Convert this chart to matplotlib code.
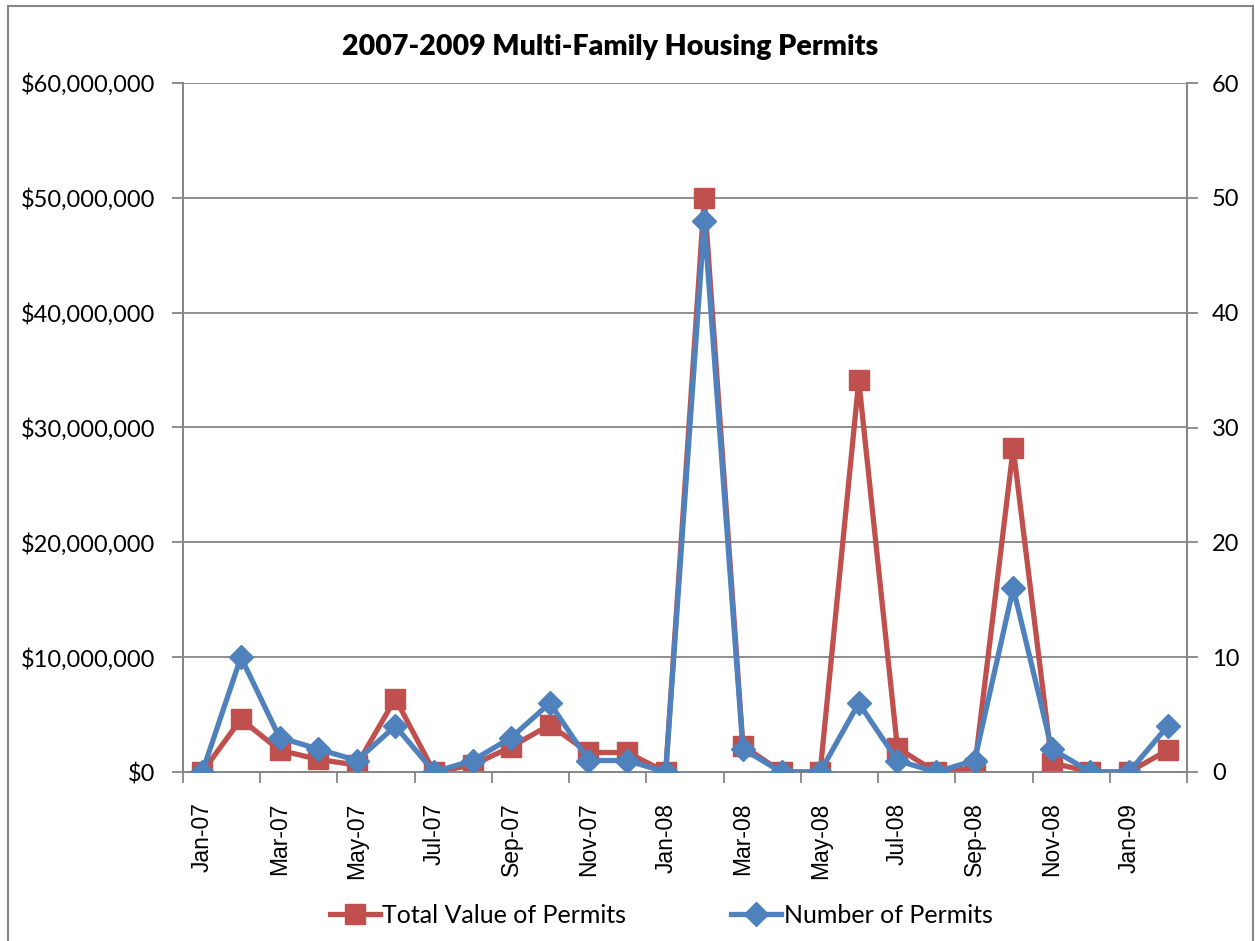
import matplotlib
matplotlib.use("Agg")
import matplotlib.pyplot as plt
from matplotlib.patches import Rectangle
from matplotlib.ticker import FuncFormatter

months = ["Jan-07", "Feb-07", "Mar-07", "Apr-07", "May-07", "Jun-07", "Jul-07",
          "Aug-07", "Sep-07", "Oct-07", "Nov-07", "Dec-07", "Jan-08", "Feb-08",
          "Mar-08", "Apr-08", "May-08", "Jun-08", "Jul-08", "Aug-08", "Sep-08",
          "Oct-08", "Nov-08", "Dec-08", "Jan-09", "Feb-09"]

total_value = [0, 4.6e6, 1.9e6, 1.1e6, 0.6e6, 6.4e6, 0, 0.6e6, 2.2e6, 4.1e6,
               1.7e6, 1.7e6, 0, 50.0e6, 2.3e6, 0, 0, 34.1e6, 2.1e6, 0,
               0.35e6, 28.2e6, 0.8e6, 0, 0, 1.9e6]

num_permits = [0, 10, 3, 2, 1, 4, 0, 1, 3, 6, 1, 1, 0, 48, 2, 0, 0, 6, 1, 0,
               1, 16, 2, 0, 0, 4]

RED = "#C0504D"
BLUE = "#4F81BD"
GRID = "#868686"
LABEL_FONT = ["Lato", "DejaVu Sans"]

fig = plt.figure(figsize=(12.55, 9.41), dpi=100)
ax = fig.add_axes([183 / 1255, 1 - 772 / 941, (1187 - 183) / 1255, (772 - 83) / 941])
ax2 = ax.twinx()

x = list(range(len(months)))
ax.plot(x, total_value, color=RED, lw=3.8, marker="s", markersize=14,
        label="Total Value of Permits", zorder=3)
ax2.plot(x, num_permits, color=BLUE, lw=3.8, marker="D", markersize=12,
         label="Number of Permits", zorder=3)

ax.set_xlim(-0.5, len(months) - 0.5)
ax.set_ylim(0, 60e6)
ax2.set_ylim(0, 60)
ax.set_yticks(range(0, 60000001, 10000000))
ax2.set_yticks(range(0, 61, 10))
ax.yaxis.set_major_formatter(FuncFormatter(lambda v, p: "${:,.0f}".format(v)))

ax.grid(axis="y", color=GRID, lw=1.3)
ax.set_axisbelow(True)

# category labels on every other month, tick marks at category boundaries
ax.set_xticks(x[::2])
ax.set_xticklabels(months[::2], rotation=90, fontsize=16.5,
                   family=["Liberation Sans", "DejaVu Sans"])
ax.tick_params(axis="x", which="major", length=0, pad=22)
ax.set_xticks([i - 0.5 for i in range(0, len(months) + 1, 2)], minor=True)
ax.tick_params(axis="x", which="minor", length=8, color=GRID, width=1.3)

for a in (ax, ax2):
    for s in a.spines.values():
        s.set_color(GRID)
        s.set_linewidth(1.3)
    a.spines["top"].set_visible(False)
ax.tick_params(axis="y", length=8, color=GRID, width=1.3, pad=12, labelsize=17)
ax2.tick_params(axis="y", length=8, color=GRID, width=1.3, pad=10, labelsize=17)
for lab in ax.get_yticklabels() + ax2.get_yticklabels():
    lab.set_family(LABEL_FONT)

fig.text(0.486, 0.95, "2007-2009 Multi-Family Housing Permits", ha="center",
         va="center", fontsize=20.5, fontweight="heavy", family=LABEL_FONT)

h1, l1 = ax.get_legend_handles_labels()
h2, l2 = ax2.get_legend_handles_labels()
fig.legend(h1 + h2, l1 + l2, loc="center", bbox_to_anchor=(0.527, 0.027),
           ncol=2, frameon=False, prop={"family": LABEL_FONT, "size": 18},
           handlelength=2.0, handletextpad=0.1, columnspacing=4.2)

fig.patches.append(Rectangle((8 / 1255, -0.01), 1245 / 1255, 1 - 6 / 941 + 0.01,
                             transform=fig.transFigure, fill=False,
                             edgecolor=GRID, lw=1.5))

fig.savefig("out.png", dpi=100)
